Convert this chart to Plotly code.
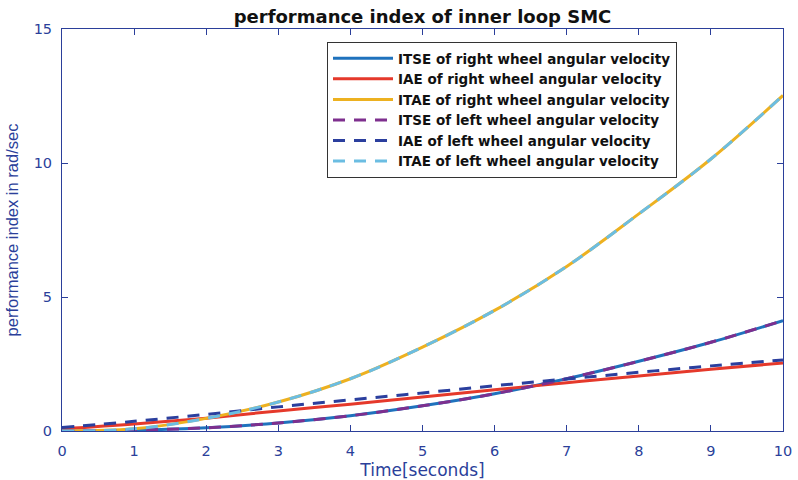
import plotly.graph_objects as go

time_s = [0, 1, 2, 3, 4, 5, 6, 7, 8, 9, 10]
itse_right = [0, 0.03, 0.12, 0.30, 0.57, 0.94, 1.39, 1.95, 2.60, 3.31, 4.12]
iae_right = [0.08, 0.26, 0.48, 0.75, 1.00, 1.27, 1.54, 1.80, 2.05, 2.30, 2.54]
itae_right = [0, 0.08, 0.47, 1.08, 1.95, 3.13, 4.50, 6.14, 8.10, 10.15, 12.52]
itse_left = [0, 0.03, 0.12, 0.30, 0.57, 0.94, 1.39, 1.95, 2.60, 3.31, 4.12]
iae_left = [0.13, 0.36, 0.62, 0.90, 1.16, 1.42, 1.69, 1.94, 2.19, 2.43, 2.65]
itae_left = [0, 0.08, 0.47, 1.08, 1.95, 3.13, 4.50, 6.14, 8.10, 10.15, 12.52]

series = [
    ("ITSE of right wheel angular velocity", itse_right, "#1f72bd", "solid"),
    ("IAE of right wheel angular velocity", iae_right, "#e5392b", "solid"),
    ("ITAE of right wheel angular velocity", itae_right, "#edb120", "solid"),
    ("ITSE of left wheel angular velocity", itse_left, "#7e2f8e", "12px,9px"),
    ("IAE of left wheel angular velocity", iae_left, "#2b3f9e", "12px,9px"),
    ("ITAE of left wheel angular velocity", itae_left, "#6bbde2", "12px,9px"),
]

axis_col = "#2b3f9a"
fig = go.Figure()
for name, ys, col, dash in series:
    fig.add_trace(go.Scatter(x=time_s, y=ys, mode="lines", name=name,
                             line=dict(color=col, width=3, dash=dash, shape="spline")))

axis_common = dict(showline=True, linecolor=axis_col, linewidth=1, mirror="ticks",
                   ticks="inside", ticklen=6, tickcolor=axis_col, tickwidth=1,
                   showgrid=False, zeroline=False, automargin=False,
                   tickfont=dict(family="DejaVu Sans", size=14.5, color=axis_col))

fig.update_layout(
    width=798, height=480,
    margin=dict(l=62, r=15, t=29, b=49, autoexpand=False),
    paper_bgcolor="white", plot_bgcolor="white",
    title=dict(text="<b>performance index of inner loop SMC</b>",
               font=dict(family="DejaVu Sans", size=18, color="#111111"),
               x=0.5, xref="paper", xanchor="center",
               y=1 - 17 / 480, yref="container", yanchor="middle"),
    xaxis=dict(range=[0, 10], tickvals=list(range(0, 11)), ticklabelstandoff=7,
               title=dict(text="Time[seconds]", standoff=6,
                          font=dict(family="DejaVu Sans", size=17, color=axis_col)),
               **axis_common),
    yaxis=dict(range=[0, 15], tickvals=[0, 5, 10, 15], ticklabelstandoff=6,
               title=dict(text="performance index in rad/sec", standoff=10,
                          font=dict(family="Liberation Sans", size=16.5, color=axis_col)),
               **axis_common),
    legend=dict(x=(327 - 62) / 721, y=(431 - 42) / 402, xanchor="left", yanchor="top",
                bgcolor="white", bordercolor="#333333", borderwidth=1,
                itemwidth=60, tracegroupgap=0,
                font=dict(family="DejaVu Sans", size=13.5, color="#111111", weight="bold")),
    showlegend=True,
)

fig.write_html("out.html")
